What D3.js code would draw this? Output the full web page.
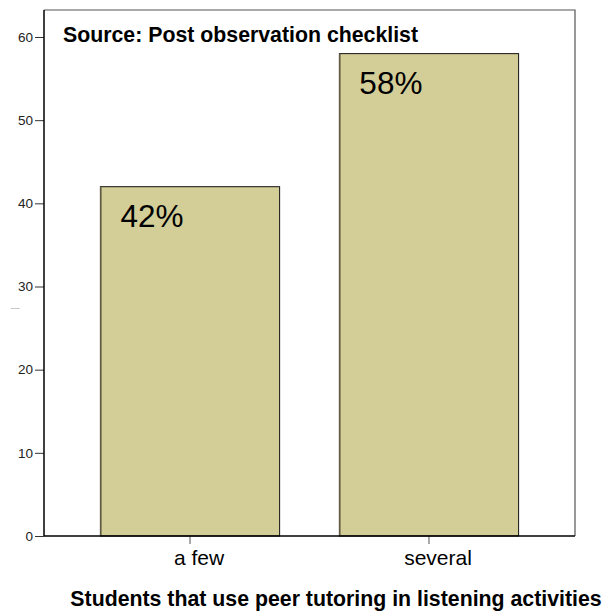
<!DOCTYPE html>
<html>
<head>
<meta charset="utf-8">
<script src="https://cdn.jsdelivr.net/npm/d3@7"></script>
<style>
  html, body { margin: 0; padding: 0; background: #fff; }
  svg { display: block; font-family: "Liberation Sans", Arial, sans-serif; }
</style>
</head>
<body>
<div id="chart"></div>
<script>
// Share of observed lessons by how many students used peer tutoring
const categories = ["a few", "several"];
const percents = [42, 58];
const yTicks = [0, 10, 20, 30, 40, 50, 60];

const width = 607, height = 612;
const margin = { left: 44, right: 32, top: 10, bottom: 76 };
const plotRight = width - margin.right;
const plotBottom = height - margin.bottom;
const fontFamily = "'Liberation Sans', Arial, sans-serif";

const svg = d3.select("#chart").append("svg")
  .attr("width", width).attr("height", height);

const x = d3.scaleBand()
  .domain(categories)
  .range([margin.left, plotRight])
  .paddingInner(0.25)
  .paddingOuter(0.236);

const y = d3.scaleLinear()
  .domain([0, 60])
  .range([plotBottom, 37]);

// Frame: top and right edges of the plot area
svg.append("path")
  .attr("d", `M${margin.left},${margin.top}H${plotRight}V${plotBottom}`)
  .attr("fill", "none")
  .attr("stroke", "#555")
  .attr("stroke-width", 1.2);

// Bars
svg.append("g").selectAll("rect")
  .data(categories)
  .join("rect")
  .attr("x", d => x(d))
  .attr("y", (d, i) => y(percents[i]))
  .attr("width", x.bandwidth())
  .attr("height", (d, i) => y(0) - y(percents[i]))
  .attr("fill", "#d3ce98")
  .attr("stroke", "#111")
  .attr("stroke-width", 1);

// Darker left edge on each bar
svg.append("g").selectAll("line")
  .data(categories)
  .join("line")
  .attr("x1", d => x(d) + 0.5)
  .attr("x2", d => x(d) + 0.5)
  .attr("y1", (d, i) => y(percents[i]))
  .attr("y2", y(0))
  .attr("stroke", "#6b6448")
  .attr("stroke-width", 1.5);

// Value labels inside the bars
svg.append("g").selectAll("text")
  .data(categories)
  .join("text")
  .attr("x", d => x(d) + 20)
  .attr("y", (d, i) => y(percents[i]) + 40)
  .attr("font-size", 31.5)
  .attr("fill", "#000")
  .text((d, i) => percents[i] + "%");

// Y axis
const yAxis = svg.append("g")
  .attr("transform", `translate(${margin.left},0)`)
  .call(d3.axisLeft(y).tickValues(yTicks).tickSize(9).tickPadding(2).tickSizeOuter(0));
yAxis.select(".domain").remove();
yAxis.append("line")
  .attr("x1", 0).attr("x2", 0)
  .attr("y1", margin.top).attr("y2", plotBottom)
  .attr("stroke", "#000").attr("stroke-width", 1.5);
yAxis.selectAll(".tick line").attr("stroke", "#333");
yAxis.selectAll(".tick text").attr("font-size", 13.5).attr("fill", "#222")
  .attr("font-family", fontFamily);

// X axis
const xAxis = svg.append("g")
  .attr("transform", `translate(0,${plotBottom})`)
  .call(d3.axisBottom(x).tickSize(8).tickPadding(9).tickSizeOuter(0));
xAxis.select(".domain").remove();
xAxis.append("line")
  .attr("x1", margin.left).attr("x2", plotRight)
  .attr("y1", 0).attr("y2", 0)
  .attr("stroke", "#000").attr("stroke-width", 1.5);
xAxis.selectAll(".tick line").attr("stroke", "#555");
xAxis.selectAll(".tick text")
  .attr("font-size", 21)
  .attr("fill", "#000")
  .attr("font-family", fontFamily)
  .attr("dy", null)
  .attr("y", 29)
  .attr("dx", 9);

// Tiny y-axis title
svg.append("text")
  .attr("x", 15).attr("y", 309)
  .attr("text-anchor", "middle")
  .attr("font-size", 2.5)
  .attr("fill", "#555")
  .text("Percent");

// Source note inside the plot
svg.append("text")
  .attr("x", 63).attr("y", 42)
  .attr("font-size", 21.3)
  .attr("font-weight", "bold")
  .attr("fill", "#000")
  .text("Source: Post observation checklist");

// X axis title
svg.append("text")
  .attr("x", 336).attr("y", 606)
  .attr("text-anchor", "middle")
  .attr("font-size", 21.3)
  .attr("font-weight", "bold")
  .attr("fill", "#000")
  .text("Students that use peer tutoring in listening activities");
</script>
</body>
</html>
